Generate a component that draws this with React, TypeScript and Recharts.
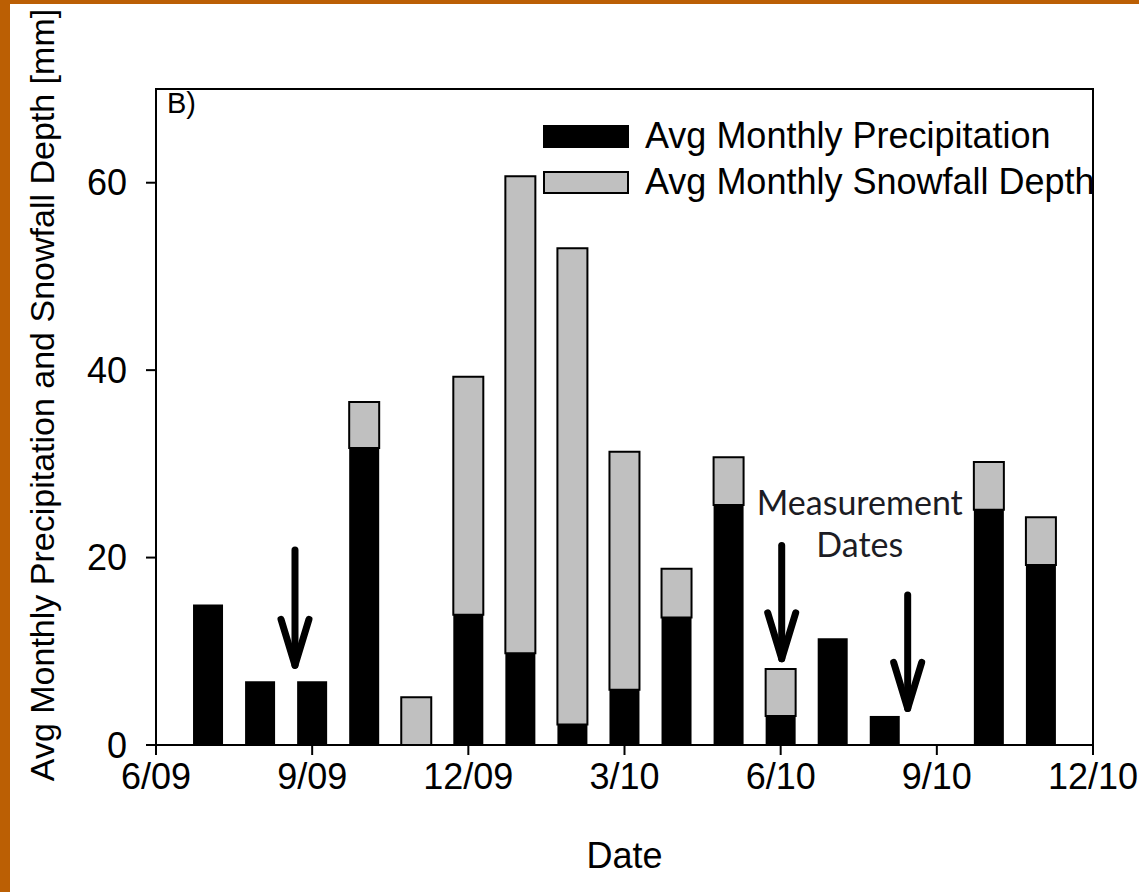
import {
  Bar,
  BarChart,
  Legend,
  ReferenceArea,
  ReferenceDot,
  ReferenceLine,
  XAxis,
  YAxis,
} from 'recharts';

// month index counted from 6/09 = 0
const monthIndex = [1, 2, 3, 4, 5, 6, 7, 8, 9, 10, 11, 12, 13, 14, 15, 16, 17];
const monthLabels = [
  '7/09', '8/09', '9/09', '10/09', '11/09', '12/09', '1/10', '2/10', '3/10',
  '4/10', '5/10', '6/10', '7/10', '8/10', '9/10', '10/10', '11/10',
];
const precipitation = [15, 6.8, 6.8, 31.7, 0, 13.9, 9.8, 2.2, 5.9, 13.6, 25.6, 3.1, 11.4, 3.1, 0, 25.1, 19.2];
const snowfall = [0, 0, 0, 4.9, 5.1, 25.4, 50.9, 50.8, 25.4, 5.2, 5.1, 5.0, 0, 0, 0, 5.1, 5.1];

const tickPositions = [0, 3, 6, 9, 12, 15, 18];
const tickLabels = ['6/09', '9/09', '12/09', '3/10', '6/10', '9/10', '12/10'];
const yTicks = [0, 20, 40, 60];

// "Measurement Dates" arrows (month index, top value, tip value)
const arrowX = [2.67, 12.02, 14.44];
const arrowTop = [20.8, 21.3, 16.0];
const arrowTip = [8.5, 9.2, 3.9];

const series = [
  { key: 'precip', name: 'Avg Monthly Precipitation', fill: '#000000' },
  { key: 'snow', name: 'Avg Monthly Snowfall Depth', fill: '#c0c0c0' },
];

const data = monthIndex.map((idx, i) => ({
  idx,
  month: monthLabels[i],
  precip: precipitation[i],
  snow: snowfall[i],
}));

const FONT = '"Liberation Sans", Arial, sans-serif';
const axisTick = { fill: '#000', fontSize: 36, fontFamily: FONT } as const;

function ArrowShape(props: any) {
  const { x1, y1, x2, y2 } = props;
  return (
    <g>
      <path d={`M${x1},${y1}L${x2},${y2}`} stroke="#000" strokeWidth={7} strokeLinecap="round" />
      <path
        d={`M${x2 - 14},${y2 - 46}L${x2},${y2}L${x2 + 14},${y2 - 46}`}
        fill="none"
        stroke="#000"
        strokeWidth={7}
        strokeLinecap="round"
        strokeLinejoin="round"
      />
    </g>
  );
}

function NoteText(props: any) {
  const { cx, cy } = props;
  return (
    <text fontFamily="Lato, sans-serif" fontSize={34} fill="#1c1c24" textAnchor="middle">
      <tspan x={cx} y={cy}>Measurement</tspan>
      <tspan x={cx} y={cy + 42}>Dates</tspan>
    </text>
  );
}

function PanelTag(props: any) {
  const { cx, cy } = props;
  return (
    <text x={cx + 11} y={cy + 24} fontFamily={FONT} fontSize={29} fill="#000">
      B)
    </text>
  );
}

function LegendBox() {
  return (
    <div style={{ fontFamily: FONT, fontSize: 36, color: '#000' }}>
      {series.map((s) => (
        <div key={s.key} style={{ display: 'flex', alignItems: 'center', height: 46 }}>
          <span
            style={{
              display: 'inline-block',
              width: 82,
              height: 19,
              background: s.fill,
              border: '2px solid #000',
              marginRight: 16,
            }}
          />
          <span style={{ whiteSpace: 'nowrap' }}>{s.name}</span>
        </div>
      ))}
    </div>
  );
}

function YLabel(props: any) {
  const { viewBox } = props;
  const x = viewBox.x - 54;
  const y = viewBox.y + viewBox.height / 2 - 22;
  return (
    <text
      x={x}
      y={y}
      transform={`rotate(-90, ${x}, ${y})`}
      textAnchor="middle"
      dominantBaseline="central"
      fontFamily={FONT}
      fontSize={34}
      fill="#000"
    >
      Avg Monthly Precipitation and Snowfall Depth [mm]
    </text>
  );
}

function XLabel(props: any) {
  const { viewBox } = props;
  return (
    <text
      x={viewBox.x + viewBox.width / 2}
      y={868}
      textAnchor="middle"
      fontFamily={FONT}
      fontSize={36}
      fill="#000"
    >
      Date
    </text>
  );
}

export default function App() {
  return (
    <div style={{ position: 'absolute', left: 0, top: 0, width: 1139, height: 892, background: '#bb5f04' }}>
      <div style={{ position: 'absolute', left: 10, top: 4, width: 1129, height: 888, background: '#fff' }} />
      <div style={{ position: 'absolute', left: 0, top: 0 }}>
        <BarChart width={1139} height={892} data={data} margin={{ top: 89, right: 46, left: 96, bottom: 87 }}>
          <XAxis
            dataKey="idx"
            type="number"
            domain={[0, 18]}
            ticks={tickPositions}
            interval={0}
            tickFormatter={(v: number) => tickLabels[tickPositions.indexOf(v)]}
            tick={axisTick}
            tickSize={10}
            tickMargin={8}
            height={60}
            axisLine={{ stroke: '#000', strokeWidth: 2 }}
            tickLine={{ stroke: '#000', strokeWidth: 2 }}
            label={<XLabel />}
          />
          <YAxis
            type="number"
            domain={[0, 70]}
            ticks={yTicks}
            interval={0}
            tick={axisTick}
            tickSize={10}
            tickMargin={19}
            width={60}
            axisLine={{ stroke: '#000', strokeWidth: 2 }}
            tickLine={{ stroke: '#000', strokeWidth: 2 }}
            label={<YLabel />}
          />
          <Legend
            layout="vertical"
            align="center"
            verticalAlign="middle"
            content={() => <LegendBox />}
            wrapperStyle={{ left: 543, top: 113, width: 590, height: 92 }}
          />
          <Bar dataKey="precip" name={series[0].name} stackId="s" fill={series[0].fill} barSize={30} isAnimationActive={false} />
          <Bar
            dataKey="snow"
            name={series[1].name}
            stackId="s"
            fill={series[1].fill}
            stroke="#000"
            strokeWidth={2}
            barSize={30}
            isAnimationActive={false}
          />
          <ReferenceArea x1={0} x2={18} y1={0} y2={70} fill="none" stroke="#000" strokeWidth={2} fillOpacity={0} />
          {arrowX.map((x, i) => (
            <ReferenceLine
              key={x}
              segment={[{ x, y: arrowTop[i] }, { x, y: arrowTip[i] }]}
              shape={ArrowShape}
            />
          ))}
          <ReferenceDot x={13.52} y={24.5} r={0} ifOverflow="visible" shape={NoteText} />
          <ReferenceDot x={0} y={70} r={0} ifOverflow="visible" shape={PanelTag} />
        </BarChart>
      </div>
    </div>
  );
}
